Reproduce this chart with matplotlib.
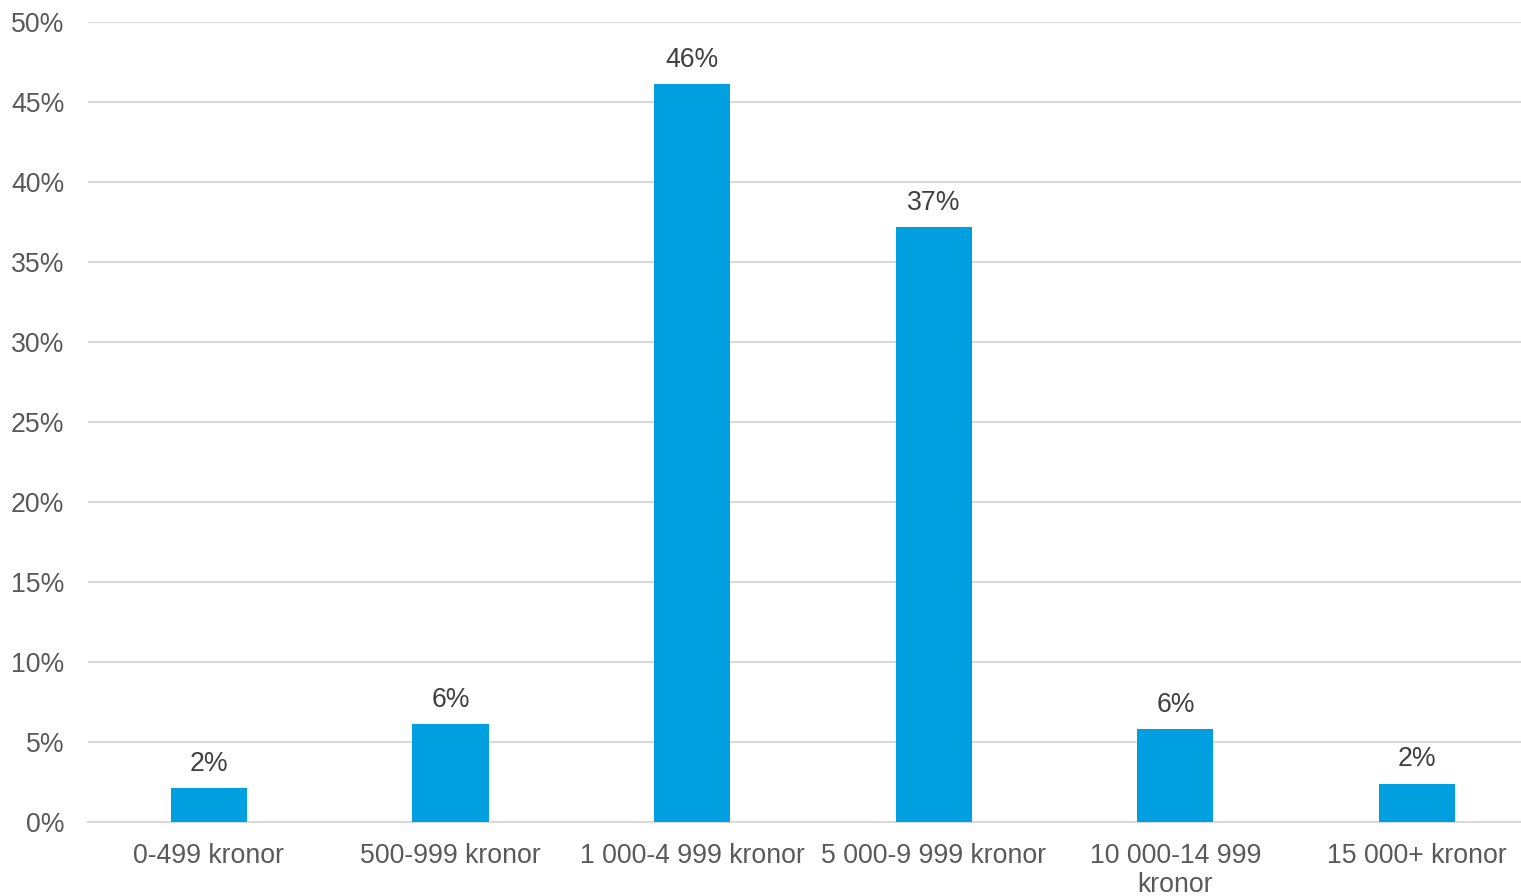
import matplotlib.pyplot as plt
from matplotlib.ticker import PercentFormatter

plt.rcParams['font.family'] = ['Liberation Sans', 'DejaVu Sans']

# data
categories = ["0-499 kronor", "500-999 kronor", "1 000-4 999 kronor",
              "5 000-9 999 kronor", "10 000-14 999\nkronor", "15 000+ kronor"]
shares = [2.1, 6.1, 46.1, 37.2, 5.8, 2.4]
labels = ["2%", "6%", "46%", "37%", "6%", "2%"]

BAR_COLOR = "#009FDF"
TEXT_COLOR = "#595959"
GRID_COLOR = "#D9D9D9"
FS = 19.2

fig = plt.figure(figsize=(15.21, 8.96), dpi=100)
ax = fig.add_axes([88 / 1521, 74 / 896, 1 - 88 / 1521, 800 / 896])

x = range(len(categories))
bars = ax.bar(x, shares, width=0.315, color=BAR_COLOR, zorder=3)

for bar, lab in zip(bars, labels):
    ax.annotate(lab, (bar.get_x() + bar.get_width() / 2, bar.get_height()),
                xytext=(0, 8), textcoords="offset points",
                ha="center", va="bottom", fontsize=FS, color="#404040")

ax.set_xlim(-0.5, 5.43)
ax.set_ylim(0, 50)
ax.set_yticks(range(0, 51, 5))
ax.yaxis.set_major_formatter(PercentFormatter(decimals=0))
ax.set_xticks(list(x))
ax.set_xticklabels(categories, linespacing=1.15)

ax.grid(axis="y", color=GRID_COLOR, linewidth=1.5, zorder=0)
for side in ["top", "right", "left"]:
    ax.spines[side].set_visible(False)
ax.spines["bottom"].set_color(GRID_COLOR)
ax.spines["bottom"].set_linewidth(1.5)

ax.tick_params(axis="y", length=0, pad=17, labelsize=FS, labelcolor=TEXT_COLOR)
ax.tick_params(axis="x", length=0, pad=15, labelsize=FS, labelcolor=TEXT_COLOR)

fig.savefig("out.png", dpi=100)
